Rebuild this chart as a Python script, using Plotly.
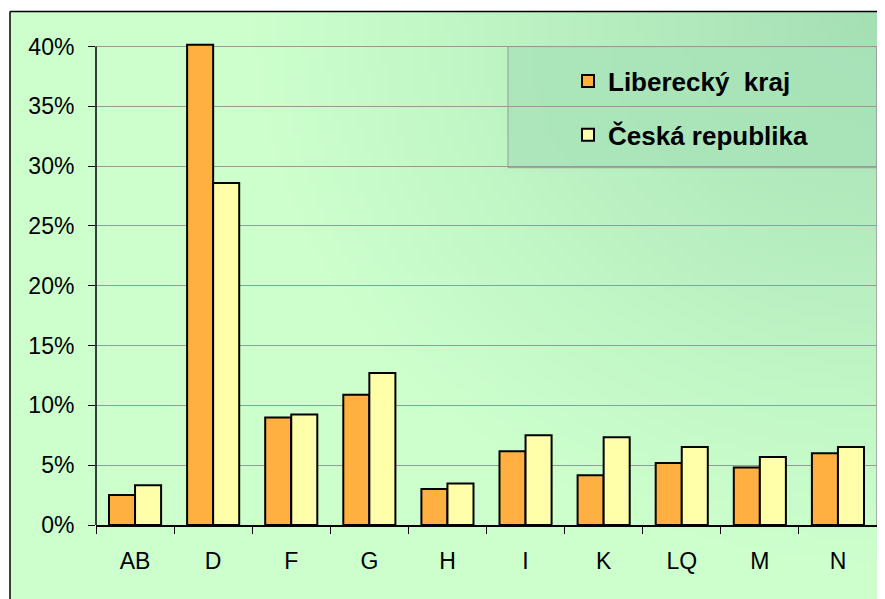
import base64, struct, zlib, math
import plotly.graph_objects as go

categories = ["AB", "D", "F", "G", "H", "I", "K", "LQ", "M", "N"]
liberecky = [2.5, 40.15, 8.98, 10.88, 3.0, 6.17, 4.16, 5.19, 4.8, 6.0]
cr = [3.32, 28.6, 9.23, 12.7, 3.46, 7.5, 7.34, 6.53, 5.69, 6.53]
series_names = ["Liberecký  kraj", "Česká republika"]
ytick_vals = [0, 5, 10, 15, 20, 25, 30, 35, 40]
ytick_text = [f"{v}%" for v in ytick_vals]
y_max = 40.3

# page body has an 8px margin -> figure is offset by 8px
OFF = 8
W, H = 885 - OFF, 599 - OFF
PL, PR, P0, P40 = 96, 877, 525, 47
scale = (P0 - P40) / 40.0
PT = P0 - y_max * scale
L, R, T, B = PL - OFF, PR - OFF, PT - OFF, P0 - OFF
pw, ph = R - L, B - T

def px_x(x):
    return (x - OFF - L) / pw

def px_y(y):
    return (B - (y - OFF)) / ph

def make_png(w, h, fn):
    raw = b""
    for j in range(h):
        row = b"\x00"
        for i in range(w):
            row += bytes(fn(i, j))
        raw += row
    def chunk(t, d):
        c = struct.pack(">I", len(d)) + t + d
        return c + struct.pack(">I", zlib.crc32(t + d) & 0xffffffff)
    png = b"\x89PNG\r\n\x1a\n"
    png += chunk(b"IHDR", struct.pack(">IIBBBBB", w, h, 8, 2, 0, 0, 0))
    png += chunk(b"IDAT", zlib.compress(raw, 9))
    png += chunk(b"IEND", b"")
    return "data:image/png;base64," + base64.b64encode(png).decode()

GX0, GY0, GX1, GY1 = 10, 12, 885, 599
gw, gh = 110, 74
light = (204, 255, 204)
dark = (164, 222, 180)

def grad(i, j):
    x = GX0 + (i + 0.5) / gw * (GX1 - GX0)
    y = GY0 + (j + 0.5) / gh * (GY1 - GY0)
    d = math.hypot(885 - x, (y - 12) * 1.15)
    t = max(0.0, min(1.0, 1 - d / 640))
    t = t ** 1.1
    return tuple(int(round(light[k] + (dark[k] - light[k]) * t)) for k in range(3))

bg = make_png(gw, gh, grad)

fig = go.Figure()
fig.add_trace(go.Bar(
    x=categories, y=liberecky, name=series_names[0],
    marker=dict(color="#FFB040", line=dict(color="black", width=2)),
    legendgroup="a",
))
fig.add_trace(go.Bar(
    x=categories, y=cr, name=series_names[1],
    marker=dict(color="#FFFFAA", line=dict(color="black", width=2)),
    legendgroup="b",
))

shapes = [
    dict(type="rect", xref="paper", yref="paper",
         x0=px_x(508), x1=px_x(877), y0=px_y(168), y1=px_y(47),
         line=dict(color="#999999", width=1), fillcolor="rgba(168,226,184,0.8)", layer="below"),
    dict(type="line", xref="paper", yref="y", x0=1, x1=1, y0=0, y1=40,
         line=dict(color="#999999", width=1.5)),
    dict(type="line", xref="paper", yref="y", x0=0, x1=0, y0=0, y1=40,
         line=dict(color="black", width=1.5)),
    dict(type="line", xref="paper", yref="paper", x0=px_x(10), x1=px_x(10),
         y0=px_y(12), y1=px_y(605), line=dict(color="black", width=1.5)),
    dict(type="line", xref="paper", yref="paper", x0=px_x(10), x1=px_x(890),
         y0=px_y(12), y1=px_y(12), line=dict(color="black", width=1.5)),
]

fig.update_layout(
    width=W, height=H,
    margin=dict(l=L, r=W - R, t=T, b=H - B, pad=0, autoexpand=False),
    paper_bgcolor="white",
    plot_bgcolor="rgba(0,0,0,0)",
    barmode="group", bargap=0.333, bargroupgap=0,
    font=dict(family="Liberation Sans, Arial", size=23, color="black"),
    showlegend=True,
    legend=dict(
        x=px_x(568), y=px_y(58), xanchor="left", yanchor="top",
        bgcolor="rgba(0,0,0,0)", borderwidth=0,
        font=dict(size=26, family="Liberation Sans, Arial", color="black", weight="bold"),
        tracegroupgap=17, traceorder="grouped", itemwidth=30,
    ),
    images=[dict(source=bg, xref="paper", yref="paper",
                 x=px_x(GX0), y=px_y(GY0), sizex=(GX1 - GX0) / pw, sizey=(GY1 - GY0) / ph,
                 xanchor="left", yanchor="top", sizing="stretch", layer="below")],
    shapes=shapes,
    xaxis=dict(
        type="category", showline=True, linecolor="black", linewidth=1.5,
        ticks="outside", tickson="boundaries", ticklen=7, tickcolor="black", tickwidth=1,
        showgrid=False, tickfont=dict(size=23), ticklabelstandoff=15,
    ),
    yaxis=dict(
        range=[0, y_max], tickvals=ytick_vals, ticktext=ytick_text,
        showline=False,
        ticks="outside", ticklen=7, tickcolor="black",
        showgrid=True, gridcolor="#999999", gridwidth=1, zeroline=False,
        tickfont=dict(size=23), ticklabelstandoff=9,
    ),
)

fig.write_html("out.html")
